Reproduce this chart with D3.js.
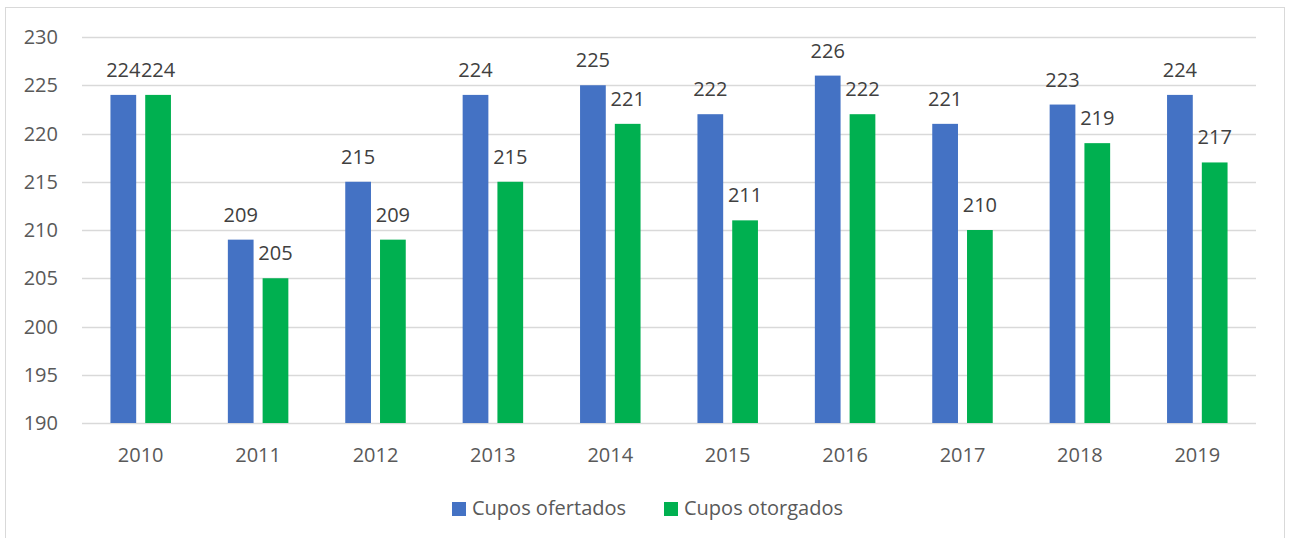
<!DOCTYPE html>
<html>
<head>
<meta charset="utf-8">
<script src="https://cdn.jsdelivr.net/npm/d3@7"></script>
<style>
  body { margin: 0; background: #fff; }
  svg { display: block; font-family: "Open Sans", sans-serif; }
</style>
</head>
<body>
<svg></svg>
<script>
// data
var years = ["2010", "2011", "2012", "2013", "2014", "2015", "2016", "2017", "2018", "2019"];
var ofertados = [224, 209, 215, 224, 225, 222, 226, 221, 223, 224];
var otorgados = [224, 205, 209, 215, 221, 211, 222, 210, 219, 217];
var seriesNames = ["Cupos ofertados", "Cupos otorgados"];
var seriesColors = ["#4472c4", "#00b050"];
var yTicks = [190, 195, 200, 205, 210, 215, 220, 225, 230];

var width = 1291, height = 538;
var margin = {top: 37, right: 35, bottom: 115, left: 82};
var fs = "20px";

var svg = d3.select("svg")
    .attr("width", width)
    .attr("height", height);

// chart frame
svg.append("rect")
    .attr("x", 5.5).attr("y", 7.5)
    .attr("width", 1279).attr("height", 540)
    .attr("fill", "none")
    .attr("stroke", "#d9d9d9");

var x = d3.scaleBand()
    .domain(years)
    .range([margin.left, width - margin.right]);

var x1 = d3.scaleBand()
    .domain([0, 1])
    .range([0, 60.5])
    .paddingInner(0.26);

var y = d3.scaleLinear()
    .domain([190, 230])
    .range([height - margin.bottom, margin.top]);

// gridlines
svg.append("g")
    .selectAll("line")
    .data(yTicks)
    .enter()
    .append("line")
    .attr("x1", margin.left)
    .attr("x2", width - margin.right)
    .attr("y1", function(d) { return Math.round(y(d)) + 0.5; })
    .attr("y2", function(d) { return Math.round(y(d)) + 0.5; })
    .attr("stroke", "#d9d9d9")
    .attr("stroke-width", 1.3);

// y labels
svg.append("g")
    .selectAll("text")
    .data(yTicks)
    .enter()
    .append("text")
    .attr("x", 58)
    .attr("y", function(d) { return y(d) + 7; })
    .attr("text-anchor", "end")
    .attr("fill", "#595959")
    .style("font-size", fs)
    .text(function(d) { return d; });

// x labels
svg.append("g")
    .selectAll("text")
    .data(years)
    .enter()
    .append("text")
    .attr("x", function(d) { return x(d) + x.bandwidth() / 2; })
    .attr("y", height - margin.bottom + 39)
    .attr("text-anchor", "middle")
    .attr("fill", "#595959")
    .style("font-size", fs)
    .text(function(d) { return d; });

var series = [ofertados, otorgados];

series.forEach(function(values, s) {
  var g = svg.append("g");
  var off = function(i) {
    return x(years[i]) + x.bandwidth() / 2 - 30.25 + x1(s);
  };
  g.selectAll("rect")
      .data(values)
      .enter()
      .append("rect")
      .attr("x", function(d, i) { return off(i); })
      .attr("y", function(d) { return y(d); })
      .attr("width", x1.bandwidth())
      .attr("height", function(d) { return y(190) - y(d); })
      .attr("fill", seriesColors[s]);

  g.selectAll("text")
      .data(values)
      .enter()
      .append("text")
      .attr("x", function(d, i) { return off(i) + x1.bandwidth() / 2; })
      .attr("y", function(d) { return y(d) - 18; })
      .attr("text-anchor", "middle")
      .attr("fill", "#404040")
      .style("font-size", fs)
      .text(function(d) { return d; });
});

// legend
var legendX = [452, 664];
var legend = svg.append("g");
seriesNames.forEach(function(name, s) {
  legend.append("rect")
      .attr("x", legendX[s]).attr("y", 502)
      .attr("width", 14).attr("height", 14)
      .attr("fill", seriesColors[s]);
  legend.append("text")
      .attr("x", legendX[s] + 20).attr("y", 515)
      .attr("fill", "#595959")
      .style("font-size", fs)
      .text(name);
});
</script>
</body>
</html>
